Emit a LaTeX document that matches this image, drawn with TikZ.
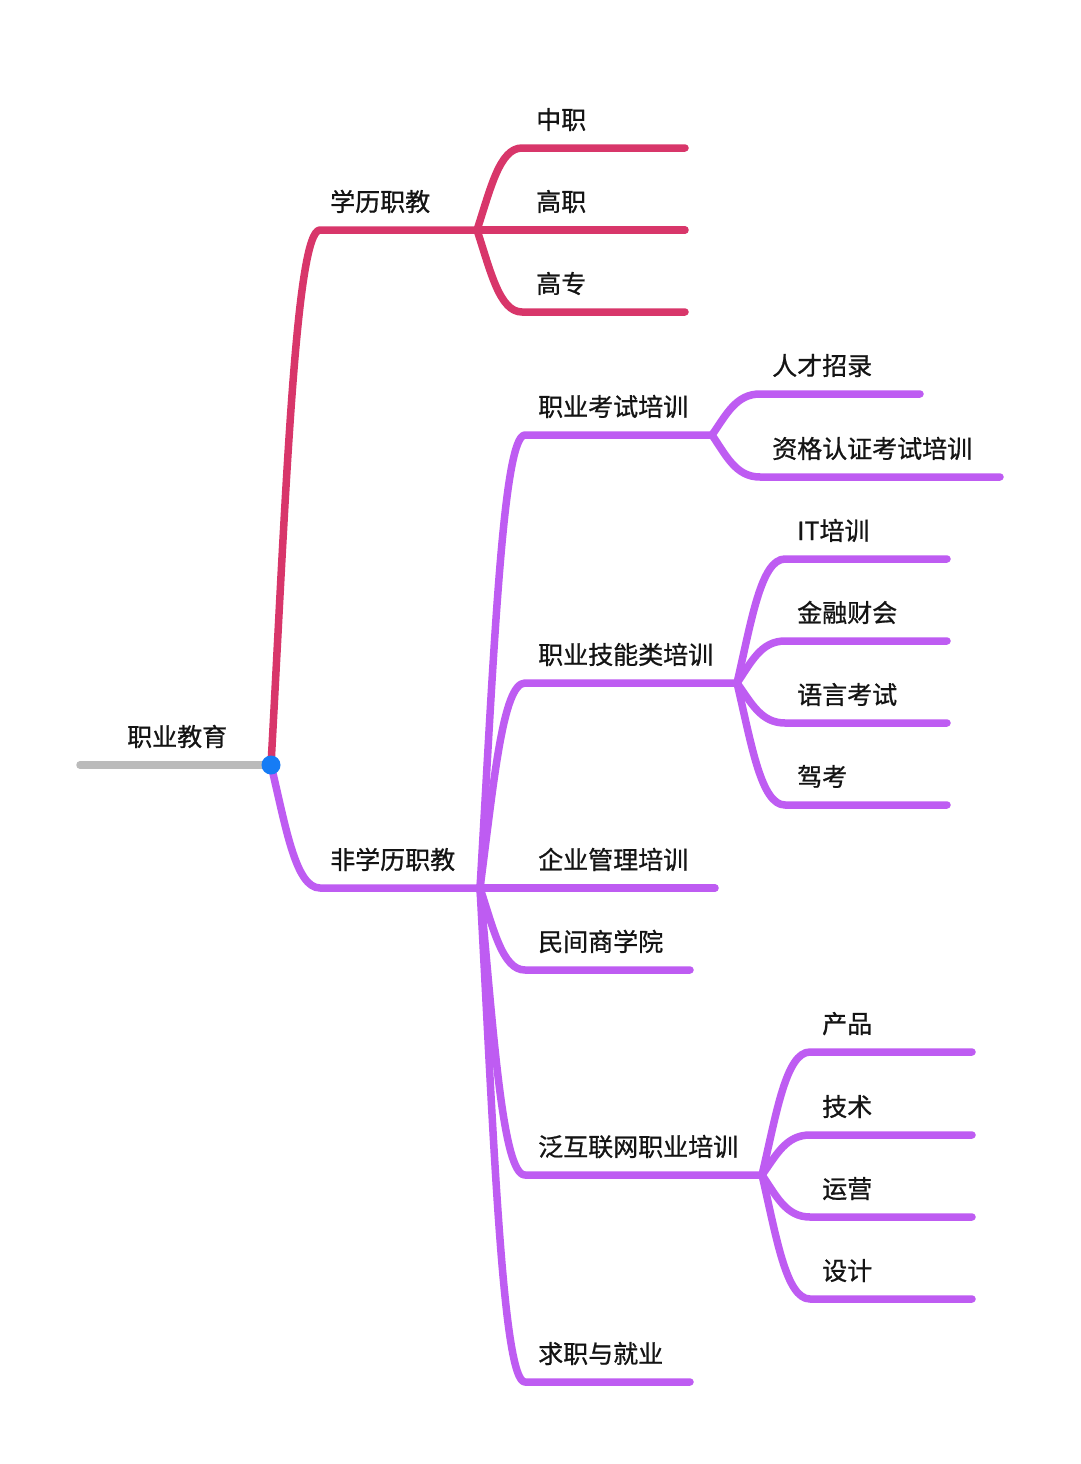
\documentclass[tikz,border=0pt]{standalone}
\usepackage{fontspec}
\setmainfont{Noto Sans CJK SC}
\newfontfamily\lblfont[FakeBold=0.8]{Noto Sans CJK SC}
\usetikzlibrary{calc}
\definecolor{redb}{RGB}{216,54,106}
\definecolor{purb}{RGB}{190,92,242}
\definecolor{grayb}{RGB}{187,187,187}
\definecolor{blued}{RGB}{22,124,245}
\definecolor{txt}{RGB}{20,20,20}
\tikzset{
  mm/.style={to path={let \p1=(\tikztostart), \p2=(\tikztotarget) in
     .. controls ({\x1+0.3*(\x2-\x1)},{\y1+0.5*(\y2-\y1)}) and ({\x1+0.5*(\x2-\x1)},\y2) .. (\tikztotarget) \tikztonodes}},
  ln/.style={line width=7.5pt, line cap=round, line join=round},
  rl/.style={ln, draw=redb},
  pl/.style={ln, draw=purb},
  lbl/.style={anchor=base west, inner sep=0pt, text=txt, font=\lblfont\fontsize{25}{29}\selectfont}
}
\begin{document}
\begin{tikzpicture}[x=1pt,y=-1pt]
\useasboundingbox[fill=white] (0,0) rectangle (1080,1464);
% coordinates
\coordinate (rs) at (80,765);
\coordinate (dot) at (271,765);
\coordinate (s1) at (320,230);
\coordinate (j1) at (477,230);
\coordinate (a1) at (522,148); \coordinate (a1e) at (685,148);
\coordinate (a2e) at (685,230);
\coordinate (a3) at (522,312); \coordinate (a3e) at (685,312);
\coordinate (s2) at (320,888);
\coordinate (j2) at (480,888);
\coordinate (b1) at (525,435); \coordinate (j3) at (712,435);
\coordinate (c1) at (760,394); \coordinate (c1e) at (920,394);
\coordinate (c2) at (760,477); \coordinate (c2e) at (1000,477);
\coordinate (b2) at (525,683); \coordinate (j4) at (737,683);
\coordinate (d1) at (785,559); \coordinate (d1e) at (947,559);
\coordinate (d2) at (785,641); \coordinate (d2e) at (947,641);
\coordinate (d3) at (785,723); \coordinate (d3e) at (947,723);
\coordinate (d4) at (785,805); \coordinate (d4e) at (947,805);
\coordinate (b3e) at (715,888);
\coordinate (b4) at (525,970); \coordinate (b4e) at (690,970);
\coordinate (b5) at (525,1175); \coordinate (j5) at (762,1175);
\coordinate (e1) at (810,1052); \coordinate (e1e) at (972,1052);
\coordinate (e2) at (810,1135); \coordinate (e2e) at (972,1135);
\coordinate (e3) at (810,1217); \coordinate (e3e) at (972,1217);
\coordinate (e4) at (810,1299); \coordinate (e4e) at (972,1299);
\coordinate (b6) at (525,1382); \coordinate (b6e) at (690,1382);
% root
\draw[ln, draw=grayb] (rs) -- (dot);
% red branch
\draw[rl] (dot) to[mm] (s1) -- (j1);
\draw[rl] (j1) to[mm] (a1) -- (a1e);
\draw[rl] (j1) -- (a2e);
\draw[rl] (j1) to[mm] (a3) -- (a3e);
% purple branch
\draw[pl] (dot) to[mm] (s2) -- (j2);
\draw[pl] (j2) to[mm] (b1) -- (j3);
\draw[pl] (j3) to[mm] (c1) -- (c1e);
\draw[pl] (j3) to[mm] (c2) -- (c2e);
\draw[pl] (j2) to[mm] (b2) -- (j4);
\draw[pl] (j4) to[mm] (d1) -- (d1e);
\draw[pl] (j4) to[mm] (d2) -- (d2e);
\draw[pl] (j4) to[mm] (d3) -- (d3e);
\draw[pl] (j4) to[mm] (d4) -- (d4e);
\draw[pl] (j2) -- (b3e);
\draw[pl] (j2) to[mm] (b4) -- (b4e);
\draw[pl] (j2) to[mm] (b5) -- (j5);
\draw[pl] (j5) to[mm] (e1) -- (e1e);
\draw[pl] (j5) to[mm] (e2) -- (e2e);
\draw[pl] (j5) to[mm] (e3) -- (e3e);
\draw[pl] (j5) to[mm] (e4) -- (e4e);
\draw[pl] (j2) to[mm] (b6) -- (b6e);
% dot
\fill[blued] (dot) circle (9.5);
% labels
\node[lbl] (n0) at (127,746) {职业教育};
\node[lbl] (n1) at (330,211) {学历职教};
\node[lbl] (n11) at (536,129) {中职};
\node[lbl] (n12) at (536,211) {高职};
\node[lbl] (n13) at (536,293) {高专};
\node[lbl] (n2) at (330,869) {非学历职教};
\node[lbl] (n21) at (538,416) {职业考试培训};
\node[lbl] (n211) at (772,375) {人才招录};
\node[lbl] (n212) at (772,458) {资格认证考试培训};
\node[lbl] (n22) at (538,664) {职业技能类培训};
\node[lbl] (n221) at (797,540) {IT培训};
\node[lbl] (n222) at (797,622) {金融财会};
\node[lbl] (n223) at (797,704) {语言考试};
\node[lbl] (n224) at (797,786) {驾考};
\node[lbl] (n23) at (538,869) {企业管理培训};
\node[lbl] (n24) at (538,951) {民间商学院};
\node[lbl] (n25) at (538,1156) {泛互联网职业培训};
\node[lbl] (n251) at (822,1033) {产品};
\node[lbl] (n252) at (822,1116) {技术};
\node[lbl] (n253) at (822,1198) {运营};
\node[lbl] (n254) at (822,1280) {设计};
\node[lbl] (n26) at (538,1363) {求职与就业};
\end{tikzpicture}
\end{document}
